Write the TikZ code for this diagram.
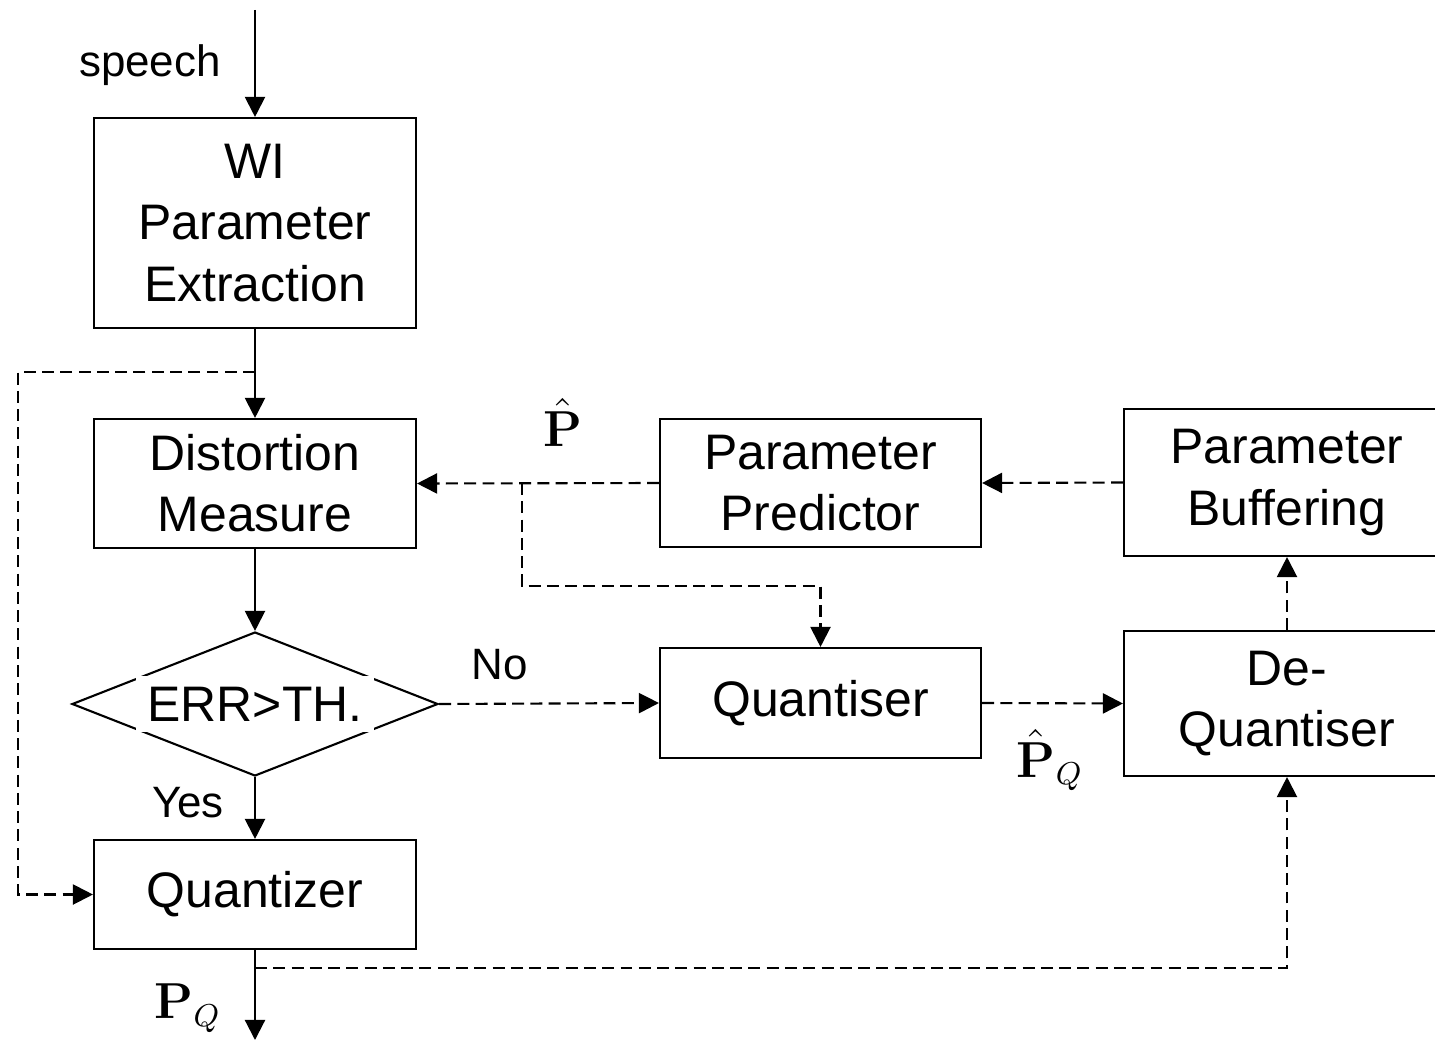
\documentclass[tikz,border=0pt]{standalone}
\usepackage{amsmath,amssymb}
\usepackage[no-math]{fontspec}
\setmainfont{Liberation Sans}
\usetikzlibrary{arrows.meta,shapes.geometric}

\begin{document}
\begin{tikzpicture}[scale=1,
  blk/.style={draw,line width=0.6pt,align=center,inner sep=0pt,font=\fontsize{14.2}{17.4}\selectfont},
  decision/.style={draw,diamond,line width=0.6pt,inner sep=0pt,minimum width=3.66cm,minimum height=1.44cm,aspect=2.54},
  sig/.style={line width=0.6pt,-{Triangle[length=5.7pt,width=5.7pt]}},
  dsig/.style={sig,dash pattern=on 3.4pt off 1.8pt},
  lbl/.style={font=\fontsize{12.5}{15}\selectfont},
  mlbl/.style={font=\fontsize{13.5}{15}\selectfont}]
  \useasboundingbox (0,0) rectangle (14.35,10.44);
  % left column
  \node[blk,minimum width=3.22cm,minimum height=2.10cm] (wi) at (2.55,8.21) {WI\\Parameter\\Extraction};
  \node[blk,minimum width=3.22cm,minimum height=1.29cm] (dist) at (2.55,5.605) {Distortion\\Measure};
  \node[decision] (dec) at (2.55,3.40) {};
  \node[fill=white,inner xsep=3.2pt,inner ysep=3pt,font=\fontsize{14.2}{17.4}\selectfont] (dectxt) at (dec) {ERR>TH.};
  \node[blk,minimum width=3.22cm,minimum height=1.09cm] (qz) at (2.55,1.495) {Quantizer};
  % right part
  \node[blk,minimum width=3.21cm,minimum height=1.28cm] (pred) at (8.205,5.61) {Parameter\\Predictor};
  \node[blk,minimum width=3.26cm,minimum height=1.47cm] (buf) at (12.87,5.615) {Parameter\\Buffering};
  \node[blk,minimum width=3.21cm,minimum height=1.10cm] (quant) at (8.205,3.41) {Quantiser};
  \node[blk,minimum width=3.26cm,minimum height=1.45cm] (deq) at (12.87,3.405) {De-\\Quantiser};
  \coordinate (in) at (2.55,10.34); \coordinate (out) at (2.55,0.04);
  \coordinate (tap1) at (2.55,6.72); \coordinate (lft) at (0.18,6.72);
  \coordinate (tap2) at (5.22,5.61); \coordinate (dn) at (5.22,4.58);
  \coordinate (tap3) at (2.55,0.76);
  % solid path
  \draw[sig] (in)--(wi.north);
  \draw[sig] (wi.south)--(dist.north);
  \draw[sig] (dist.south)--(dec.north);
  \draw[sig] (dec.south)--(qz.north);
  \draw[sig] (qz.south)--(out);
  % dashed path
  \draw[dsig] (tap1)--(lft)|-(qz.west);
  \draw[dsig] (dec.east)--(quant.west);
  \draw[dsig] (quant.east)--(deq.west);
  \draw[dsig] (deq.north)--(buf.south);
  \draw[dsig] (buf.west)--(pred.east);
  \draw[dsig] (pred.west)--(dist.east);
  \draw[dsig] (tap2)--(dn)-|(quant.north);
  \draw[dsig] (tap3)-|(deq.south);
  % labels
  \node[lbl] (speechlbl) at (1.50,9.79) {speech};
  \node[lbl] (yeslbl) at (1.88,2.41) {Yes};
  \node[lbl] (nolbl) at (5.00,3.79) {No};
  \node[mlbl] (phat) at (5.63,6.22) {$\hat{\mathbf{P}}$};
  \node[mlbl] (phatq) at (10.50,2.84) {$\hat{\mathbf{P}}_{Q}$};
  \node[mlbl] (pq) at (1.88,0.36) {$\mathbf{P}_{Q}$};
\end{tikzpicture}
\end{document}
